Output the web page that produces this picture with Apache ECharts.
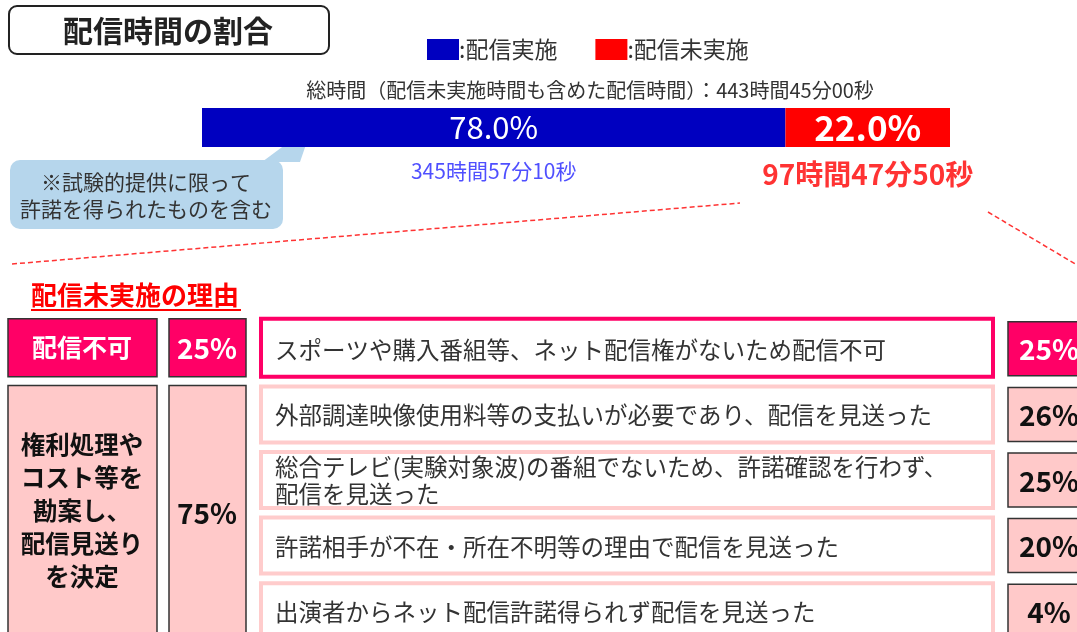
<!DOCTYPE html>
<html>
<head>
<meta charset="utf-8">
<script src="https://cdn.jsdelivr.net/npm/echarts@6/dist/echarts.min.js"></script>
<style>
html, body { margin: 0; padding: 0; background: #fff; }
#main { width: 1077px; height: 632px; }
</style>
</head>
<body>
<div id="main"></div>
<script>
// 配信時間の割合
var statusNames = ['配信実施', '配信未実施'];
var statusShares = [78.0, 22.0];
var statusTimes = ['345時間57分10秒', '97時間47分50秒'];
var totalText = '総時間（配信未実施時間も含めた配信時間）：443時間45分00秒';

// 配信未実施の理由
var reasons = [
    'スポーツや購入番組等、ネット配信権がないため配信不可',
    '外部調達映像使用料等の支払いが必要であり、配信を見送った',
    '総合テレビ(実験対象波)の番組でないため、許諾確認を行わず、\n配信を見送った',
    '許諾相手が不在・所在不明等の理由で配信を見送った',
    '出演者からネット配信許諾得られず配信を見送った'
];
var reasonShares = [25, 26, 25, 20, 4];
var groupNames = ['配信不可', '権利処理や\nコスト等を\n勘案し、\n配信見送り\nを決定'];
var groupShares = [25, 75];
var groupRows = [[0, 0], [1, 4]];

var FONT = '"Noto Sans CJK JP", "Noto Sans", sans-serif';
var PINK = '#ff0066';
var LIGHT = '#ffc9c9';

var dom = document.getElementById('main');
var myChart = echarts.init(dom);

var mids = [];
var acc = 0;
statusShares.forEach(function (v) {
    mids.push(acc + v / 2);
    acc += v;
});

var barColors = ['#0000c0', '#ff0000'];
var barLabels = [
    { color: '#fff', fontSize: 31, fontWeight: 'normal' },
    { color: '#fff', fontSize: 35, fontWeight: 'bold' }
];
var timeLabels = [
    { color: '#2323ff', fontSize: 21, fontWeight: 'normal', offset: [0, 44] },
    { color: '#ff0000', fontSize: 28, fontWeight: 'bold', offset: [0, 47] }
];

var series = statusNames.map(function (n, i) {
    return {
        name: n,
        type: 'bar',
        stack: 'total',
        barWidth: '100%',
        xAxisIndex: 0,
        yAxisIndex: 0,
        data: [statusShares[i]],
        itemStyle: { color: barColors[i] },
        label: {
            show: true,
            position: 'inside',
            fontFamily: FONT,
            color: barLabels[i].color,
            fontSize: barLabels[i].fontSize,
            fontWeight: barLabels[i].fontWeight,
            formatter: function (p) { return p.value.toFixed(1) + '%'; }
        }
    };
});

series.push({
    type: 'scatter',
    xAxisIndex: 0,
    yAxisIndex: 0,
    symbolSize: 0,
    silent: true,
    data: mids.map(function (m, i) {
        return {
            value: [m, 0],
            label: {
                show: true,
                position: 'inside',
                offset: timeLabels[i].offset,
                fontFamily: FONT,
                color: timeLabels[i].color,
                fontSize: timeLabels[i].fontSize,
                fontWeight: timeLabels[i].fontWeight,
                formatter: statusTimes[i]
            }
        };
    })
});

// reason rows
series.push({
    type: 'custom',
    xAxisIndex: 1,
    yAxisIndex: 1,
    data: reasonShares.map(function (v, i) { return [v, i]; }),
    encode: { x: 0, y: 1 },
    renderItem: function (params, api) {
        var i = params.dataIndex;
        var y = api.coord([0, i])[1];
        var strong = i === 0;
        return {
            type: 'group',
            children: [
                {
                    type: 'rect',
                    shape: { x: 261, y: y - (strong ? 30 : 28), width: 732, height: strong ? 58 : 56 },
                    style: { fill: '#fff', stroke: strong ? PINK : '#ffcccc', lineWidth: 4 }
                },
                {
                    type: 'text',
                    style: {
                        x: 275, y: y + 1, text: reasons[i], fill: '#333',
                        fontFamily: FONT, fontSize: 23.5, lineHeight: 27,
                        align: 'left', verticalAlign: 'middle'
                    }
                },
                {
                    type: 'rect',
                    shape: { x: 1008, y: y - 27, width: 80, height: 54 },
                    style: { fill: strong ? PINK : LIGHT, stroke: '#333', lineWidth: 1.5 }
                },
                {
                    type: 'text',
                    style: {
                        x: 1049, y: y + 1, text: api.value(0) + '%',
                        fill: strong ? '#fff' : '#111',
                        fontFamily: FONT, fontSize: 28, fontWeight: 'bold',
                        align: 'center', verticalAlign: 'middle'
                    }
                }
            ]
        };
    }
});

// group boxes on the left
series.push({
    type: 'custom',
    xAxisIndex: 1,
    yAxisIndex: 1,
    data: groupShares.map(function (v, k) { return [v, groupRows[k][0]]; }),
    encode: { x: 0, y: 1 },
    renderItem: function (params, api) {
        var k = params.dataIndex;
        var strong = k === 0;
        var y0 = api.coord([0, groupRows[k][0]])[1] - (strong ? 30 : 29);
        var y1 = api.coord([0, groupRows[k][1]])[1] + 28;
        var cy = (y0 + y1) / 2;
        var fill = strong ? PINK : LIGHT;
        var txt = strong ? '#fff' : '#111';
        return {
            type: 'group',
            children: [
                { type: 'rect', shape: { x: 8, y: y0, width: 149, height: y1 - y0 },
                  style: { fill: fill, stroke: '#333', lineWidth: 1.5 } },
                { type: 'rect', shape: { x: 169, y: y0, width: 77, height: y1 - y0 },
                  style: { fill: fill, stroke: '#333', lineWidth: 1.5 } },
                { type: 'text', style: {
                    x: 82, y: strong ? cy : cy - 2, text: groupNames[k], fill: txt,
                    fontFamily: FONT, fontSize: strong ? 25 : 24.5, fontWeight: 'bold', lineHeight: 33,
                    align: 'center', verticalAlign: 'middle' } },
                { type: 'text', style: {
                    x: 207, y: cy + 1, text: api.value(0) + '%', fill: txt,
                    fontFamily: FONT, fontSize: 28, fontWeight: 'bold',
                    align: 'center', verticalAlign: 'middle' } }
            ]
        };
    }
});

var option = {
    backgroundColor: '#fff',
    animation: false,
    legend: {
        data: statusNames,
        left: 427,
        top: 38,
        padding: 0,
        icon: 'rect',
        itemWidth: 32,
        itemHeight: 21,
        itemGap: 38,
        selectedMode: false,
        formatter: ':{name}',
        textStyle: { fontFamily: FONT, fontSize: 23, color: '#333', padding: [0, 0, 0, -5] }
    },
    grid: [
        { left: 202, width: 748, top: 108, height: 39, outerBoundsMode: 'none' },
        { left: 0, width: 1077, top: 316, height: 328, outerBoundsMode: 'none' }
    ],
    xAxis: [
        { type: 'value', min: 0, max: 100, show: false, gridIndex: 0 },
        { type: 'value', min: 0, max: 100, show: false, gridIndex: 1 }
    ],
    yAxis: [
        { type: 'category', data: ['total'], show: false, gridIndex: 0 },
        { type: 'category', data: reasons, inverse: true, show: false, gridIndex: 1 }
    ],
    graphic: [
        { type: 'rect', shape: { x: 9, y: 6, width: 320, height: 48, r: 8 },
          style: { fill: '#fff', stroke: '#222', lineWidth: 2 } },
        { type: 'text', style: { x: 168, y: 31, text: '配信時間の割合', fill: '#222',
          fontFamily: FONT, fontSize: 30, fontWeight: 'bold', align: 'center', verticalAlign: 'middle' } },
        { type: 'text', style: { x: 590, y: 90, text: totalText, fill: '#333',
          fontFamily: FONT, fontSize: 20, align: 'center', verticalAlign: 'middle' } },
        // callout
        { type: 'polygon', shape: { points: [[262, 162], [313, 124], [300, 162]] },
          style: { fill: '#b6d6ec' } },
        { type: 'rect', shape: { x: 10, y: 160, width: 273, height: 69, r: 10 },
          style: { fill: '#b6d6ec' } },
        { type: 'text', style: { x: 146, y: 196, text: '※試験的提供に限って\n許諾を得られたものを含む',
          fill: '#333', fontFamily: FONT, fontSize: 21, lineHeight: 27, align: 'center', verticalAlign: 'middle' } },
        // dashed guide lines
        { type: 'line', shape: { x1: 12, y1: 264, x2: 740, y2: 203 },
          style: { stroke: '#ff3333', lineWidth: 1.5, lineDash: [5, 3] } },
        { type: 'line', shape: { x1: 988, y1: 212, x2: 1077, y2: 265 },
          style: { stroke: '#ff3333', lineWidth: 1.5, lineDash: [5, 3] } },
        // section heading
        { type: 'text', style: { x: 31, y: 295, text: '配信未実施の理由', fill: '#ff0000',
          fontFamily: FONT, fontSize: 26, fontWeight: 'bold', align: 'left', verticalAlign: 'middle' } },
        { type: 'line', shape: { x1: 31, y1: 310, x2: 241, y2: 310 },
          style: { stroke: '#ff0000', lineWidth: 2 } }
    ],
    series: series
};

if (option && typeof option === 'object') {
    myChart.setOption(option);
}
</script>
</body>
</html>
